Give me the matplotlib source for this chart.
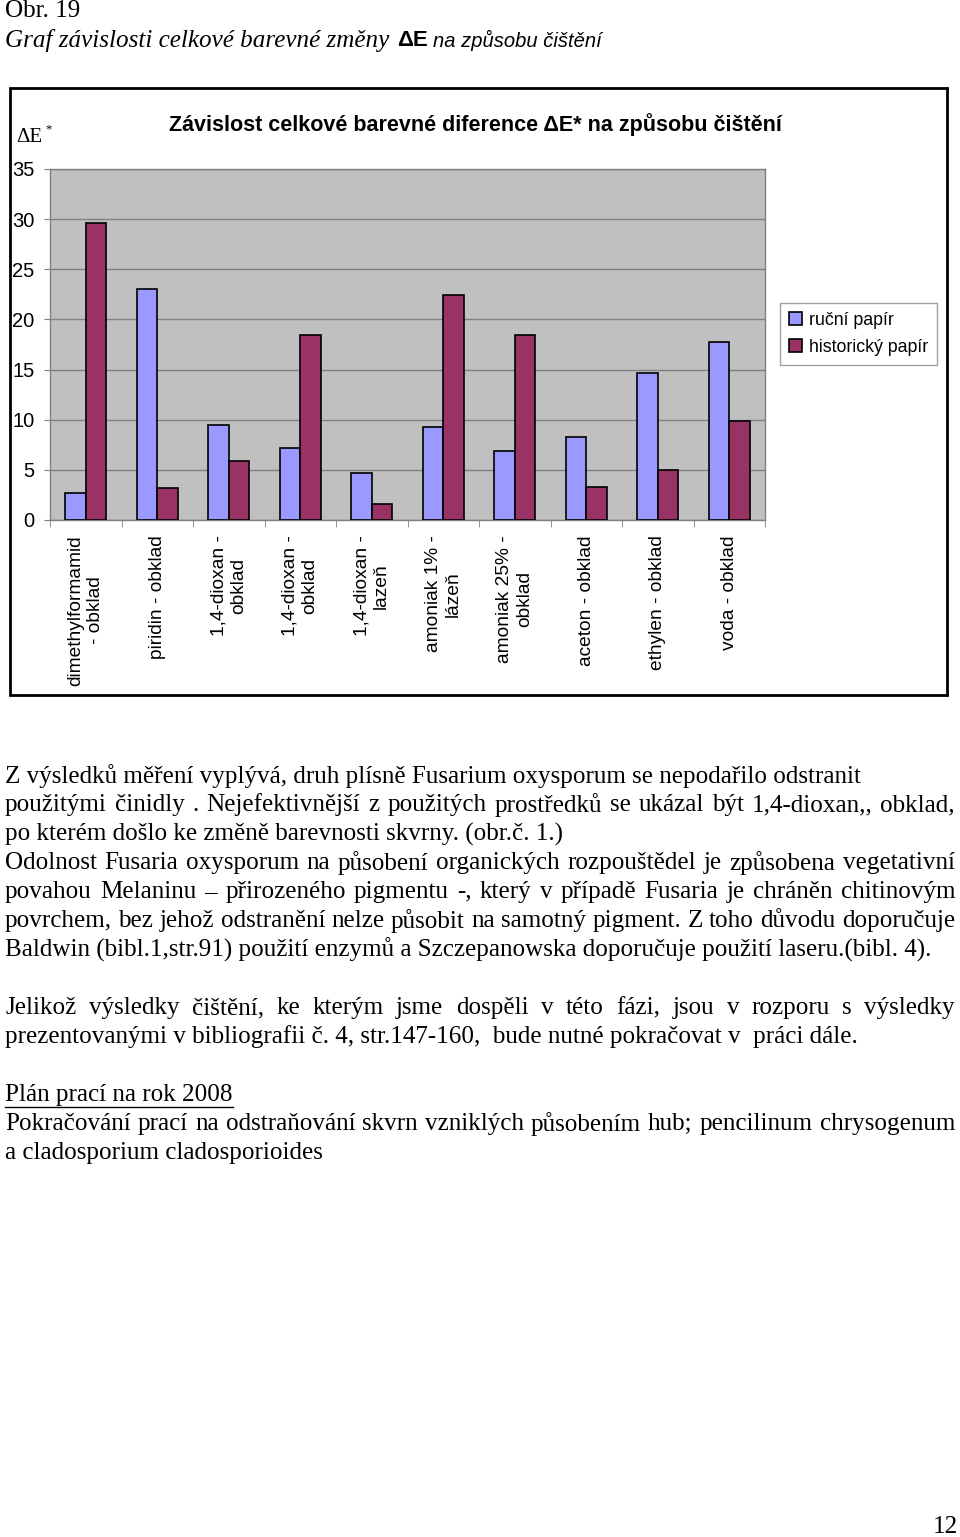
import numpy as np
import matplotlib
matplotlib.use("Agg")
import matplotlib.pyplot as plt
from matplotlib.patches import Rectangle
from matplotlib.lines import Line2D

# data
categories = ["dimethylformamid\n- obklad", "piridin - obklad", "1,4-dioxan -\nobklad",
              "1,4-dioxan -\nobklad", "1,4-dioxan -\nlazeň", "amoniak 1% -\nlázeň",
              "amoniak 25% -\nobklad", "aceton - obklad", "ethylen - obklad", "voda - obklad"]
rucni = [2.7, 23.0, 9.5, 7.2, 4.7, 9.3, 6.9, 8.3, 14.7, 17.7]
historicky = [29.6, 3.2, 5.9, 18.4, 1.6, 22.4, 18.4, 3.3, 5.0, 9.9]
y_ticks = [0, 5, 10, 15, 20, 25, 30, 35]

body_lines = [
    ("Z výsledků měření vyplývá, druh plísně Fusarium oxysporum se nepodařilo odstranit", 776, False),
    ("použitými činidly . Nejefektivnější z použitých prostředků se ukázal být 1,4-dioxan,, obklad,", 805, True),
    ("po kterém došlo ke změně barevnosti skvrny. (obr.č. 1.)", 834, False),
    ("Odolnost Fusaria oxysporum na působení organických rozpouštědel je způsobena vegetativní", 863, True),
    ("povahou Melaninu – přirozeného pigmentu -, který v případě Fusaria je chráněn chitinovým", 892, True),
    ("povrchem, bez jehož odstranění nelze působit na samotný pigment. Z toho důvodu doporučuje", 921, True),
    ("Baldwin (bibl.1,str.91) použití enzymů a Szczepanowska doporučuje použití laseru.(bibl. 4).", 950, False),
    ("Jelikož  výsledky čištění, ke kterým jsme dospěli v této fázi, jsou v rozporu s výsledky", 1008, True),
    ("prezentovanými v bibliografii č. 4, str.147-160,  bude nutné pokračovat v  práci dále.", 1037, False),
    ("Plán prací na rok 2008", 1095, False),
    ("Pokračování prací na odstraňování skvrn vzniklých působením hub; pencilinum chrysogenum", 1124, True),
    ("a cladosporium cladosporioides", 1153, False),
]

W, H = 960, 1537
fig = plt.figure(figsize=(9.6, 15.37), dpi=100)
renderer = fig.canvas.get_renderer()

SERIF = "Liberation Serif"
SANS = "Liberation Sans"


def fx(px):
    return px / W


def fy(py):
    return 1 - py / H


def width_of(t):
    return t.get_window_extent(renderer).width


def put(x, y, s, **kw):
    return fig.text(fx(x), fy(y), s, va="center", ha="left", **kw)


# body font size fitted to the first line width
probe = put(5, 776, body_lines[0][0], family=SERIF, size=10)
body_size = 10 * 857 / width_of(probe)
probe.remove()

# header
put(5, 11, "Obr. 19", family=SERIF, size=body_size)
x = 5
t = put(x, 40, "Graf závislosti celkové barevné změny", family=SERIF, style="italic", size=body_size)
x += width_of(t) + 8
t = put(x, 40, "ΔE", family=SANS, weight="bold", size=16)
x += width_of(t) + 5
put(x, 40, "na způsobu čištění", family=SANS, style="italic", size=14.5)

# body text
left, right = 5, 955
for line, y, justify in body_lines:
    if not justify:
        t = put(left, y, line, family=SERIF, size=body_size)
        if line.startswith("Plán"):
            w = width_of(t)
            fig.add_artist(Line2D([fx(left), fx(left + w)], [fy(y + 12), fy(y + 12)],
                                  transform=fig.transFigure, color="black", lw=1))
        continue
    words = line.split()
    objs = [put(left, y, wd, family=SERIF, size=body_size) for wd in words]
    widths = [width_of(o) for o in objs]
    gap = (right - left - sum(widths)) / (len(words) - 1)
    xx = left
    for o, w in zip(objs, widths):
        o.set_x(fx(xx))
        xx += w + gap

put(945, 1527, "12", family=SERIF, size=body_size).set_ha("center")

# chart frame
fig.add_artist(Rectangle((fx(10), fy(695)), fx(937), (695 - 88) / H, transform=fig.transFigure,
                         fill=False, edgecolor="black", lw=2))

# chart
ax = fig.add_axes([fx(50), fy(520), fx(715), (520 - 169) / H])
ax.set_facecolor("#C0C0C0")
xs = np.arange(len(categories))
bw = 0.29
ax.bar(xs - bw / 2, rucni, bw, color="#9999FF", edgecolor="black", lw=1.2, label="ruční papír", zorder=3)
ax.bar(xs + bw / 2, historicky, bw, color="#993366", edgecolor="black", lw=1.2, label="historický papír", zorder=3)
ax.set_xlim(-0.5, len(categories) - 0.5)
ax.set_ylim(0, 35)
ax.set_yticks(y_ticks)
ax.yaxis.grid(True, color="#808080", lw=1, zorder=1)
ax.set_axisbelow(True)
for sp in ax.spines.values():
    sp.set_color("#808080")
    sp.set_linewidth(1)
ax.set_xticks(xs)
ax.set_xticklabels(categories, rotation=90, rotation_mode="anchor", ha="right", va="center",
                   multialignment="center", family=SANS, size=13.8)
ax.set_xticks(np.arange(-0.5, len(categories), 1), minor=True)
ax.tick_params(axis="x", which="major", length=0, pad=11)
ax.tick_params(axis="x", which="minor", length=5, color="#808080")
ax.tick_params(axis="y", length=4, color="#808080", pad=7, labelsize=14.5)
for lb in ax.get_yticklabels():
    lb.set_family(SANS)

fig.text(fx(475), fy(125), "Závislost celkové barevné diference ΔE* na způsobu čištění",
         family=SANS, weight="bold", size=15.5, ha="center", va="center")
put(16, 137, "ΔE", family=SERIF, size=15)
put(45, 129, "*", family=SERIF, size=9)

leg = ax.legend(loc="upper left", bbox_to_anchor=(fx(780), fy(303)), bbox_transform=fig.transFigure,
                borderaxespad=0, fancybox=False, framealpha=1, edgecolor="#A0A0A0",
                prop={"family": SANS, "size": 12.8}, handlelength=0.75, handleheight=0.75,
                handletextpad=0.4, borderpad=0.5, labelspacing=0.55)
leg.get_frame().set_linewidth(1)

fig.savefig("out.png", dpi=100)
